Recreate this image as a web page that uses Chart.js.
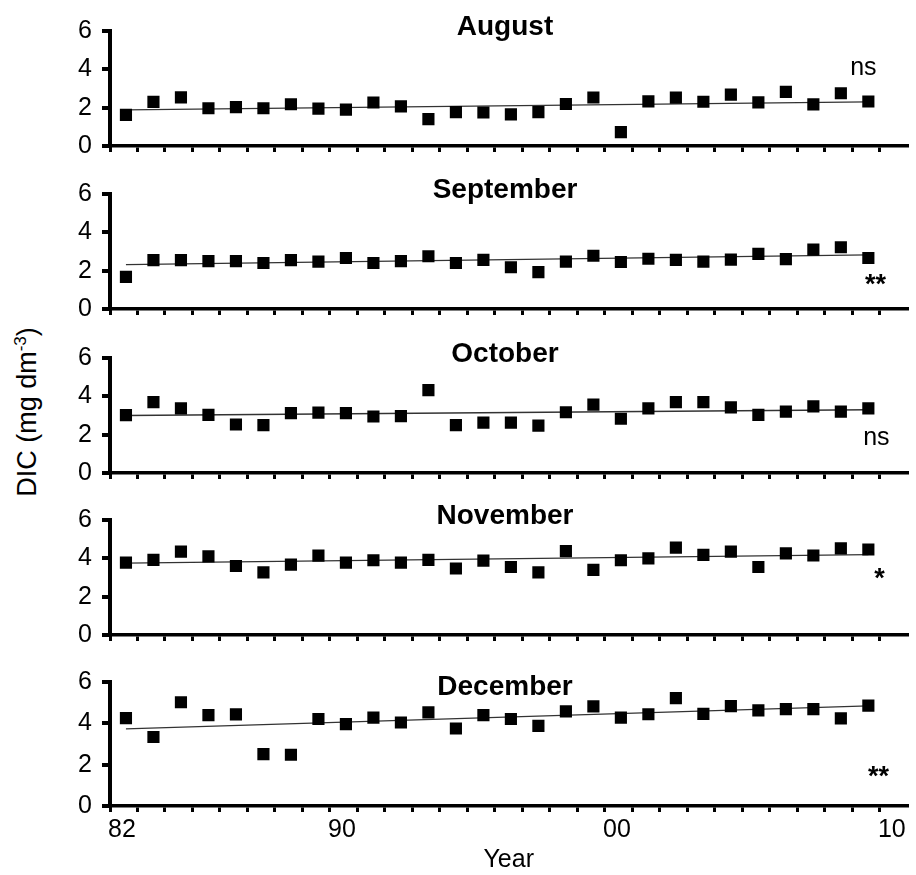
<!DOCTYPE html>
<html>
<head>
<meta charset="utf-8">
<script src="https://cdn.jsdelivr.net/npm/chart.js@4/dist/chart.umd.min.js"></script>
<style>
html,body{margin:0;padding:0;background:#fff;}
#wrap{position:relative;width:916px;height:875px;overflow:hidden;font-family:"Liberation Sans",Arial,sans-serif;}
.panel{position:absolute;left:0;width:916px;}
#ytitle{position:absolute;left:27px;top:412px;transform:translate(-50%,-50%) rotate(-90deg);font-size:27px;white-space:nowrap;color:#000;line-height:1;}
#ytitle sup{font-size:17px;position:relative;top:-10px;vertical-align:baseline;}
</style>
</head>
<body>
<div id="wrap">
  <div id="ytitle">DIC (mg dm<sup>-3</sup>)</div>
</div>
<script>
// ---------- data ----------
const years = [1982,1983,1984,1985,1986,1987,1988,1989,1990,1991,1992,1993,1994,1995,
               1996,1997,1998,1999,2000,2001,2002,2003,2004,2005,2006,2007,2008,2009];
const augustDIC    = [1.62,2.30,2.54,1.97,2.03,1.97,2.18,1.95,1.90,2.27,2.07,1.40,1.77,1.75,
                      1.65,1.77,2.19,2.53,0.72,2.33,2.52,2.31,2.68,2.28,2.82,2.17,2.75,2.32];
const septemberDIC = [1.68,2.55,2.55,2.50,2.50,2.40,2.55,2.47,2.66,2.40,2.50,2.75,2.40,2.56,
                      2.18,1.92,2.47,2.78,2.45,2.62,2.56,2.47,2.58,2.88,2.60,3.10,3.22,2.66];
const octoberDIC   = [3.02,3.70,3.37,3.03,2.53,2.50,3.12,3.15,3.12,2.95,2.97,4.32,2.50,2.63,
                      2.63,2.47,3.17,3.57,2.83,3.37,3.70,3.70,3.42,3.03,3.20,3.48,3.20,3.37];
const novemberDIC  = [3.78,3.92,4.35,4.10,3.60,3.27,3.67,4.14,3.78,3.90,3.78,3.92,3.47,3.88,
                      3.55,3.27,4.38,3.40,3.90,4.00,4.56,4.18,4.35,3.55,4.26,4.15,4.52,4.46];
const decemberDIC  = [4.25,3.34,5.02,4.40,4.43,2.51,2.48,4.21,3.96,4.28,4.04,4.53,3.75,4.40,
                      4.21,3.88,4.58,4.82,4.28,4.44,5.22,4.46,4.83,4.63,4.69,4.69,4.24,4.86];
const months       = ['August','September','October','November','December'];
const significance = ['ns','**','ns','*','**'];
const trendStart   = [1.88,2.32,3.00,3.75,3.73];   // trend line value at first year
const trendEnd     = [2.30,2.82,3.30,4.19,4.84];   // trend line value at last year
const yTickValues  = [0,2,4,6];
const xTickYears   = [1982,1990,2000,2010];
const xTickLabels  = ['82','90','00','10'];
const series = [augustDIC, septemberDIC, octoberDIC, novemberDIC, decemberDIC];

// ---------- layout / style ----------
const FONT = '"Liberation Sans", Arial, sans-serif';
const zeroLines = [155,318,482,644,806];   // pixel row of y=0 in each panel
const PLOT_H = 133, PAD_TOP = 16, PAD_BOTTOM = 16;
const X_MIN = 1981.42, X_MAX = 2010.42;
const tickMarkValues = Array.from({length:29}, (_, k) => X_MIN + k);
const sigStyle = [
  {dx:-44, dy:-78, font:'25px '+FONT},
  {dx:-32, dy:-23, font:'bold 27px '+FONT},
  {dx:-31, dy:-35, font:'25px '+FONT},
  {dx:-28, dy:-55, font:'bold 27px '+FONT},
  {dx:-29, dy:-28, font:'bold 27px '+FONT}
];

const annotatePlugin = {
  id: 'annotate',
  afterDatasetsDraw(chart, args, opts) {
    const {ctx, chartArea} = chart;
    ctx.save();
    ctx.fillStyle = '#000';
    ctx.textAlign = 'center';
    ctx.textBaseline = 'alphabetic';
    ctx.font = 'bold 28px ' + FONT;
    ctx.fillText(opts.title, 505, chartArea.bottom - 111);
    ctx.textBaseline = 'middle';
    ctx.font = opts.sig.font;
    ctx.fillText(opts.sigText, chartArea.right + opts.sig.dx, chartArea.bottom + opts.sig.dy);
    ctx.restore();
  }
};

const wrap = document.getElementById('wrap');
months.forEach((month, i) => {
  const isBottom = i === months.length - 1;
  const top = zeroLines[i] - PLOT_H - PAD_TOP;
  const height = isBottom ? 875 - top : PAD_TOP + PLOT_H + PAD_BOTTOM;
  const div = document.createElement('div');
  div.className = 'panel';
  div.style.top = top + 'px';
  div.style.height = height + 'px';
  const canvas = document.createElement('canvas');
  div.appendChild(canvas);
  wrap.appendChild(div);

  const scales = {
    x: {
      type: 'linear', position: 'bottom', weight: 0,
      min: X_MIN, max: X_MAX,
      afterBuildTicks: s => { s.ticks = tickMarkValues.map(v => ({value: v})); },
      ticks: {display: false},
      grid: {drawOnChartArea: false, drawTicks: true, tickLength: 6, color: '#000', lineWidth: 3},
      border: {display: true, color: '#000', width: 3.5},
      afterFit: s => { s.height = isBottom ? 7 : PAD_BOTTOM; }
    },
    y: {
      type: 'linear', position: 'left', min: 0, max: 6,
      afterBuildTicks: s => { s.ticks = yTickValues.map(v => ({value: v})); },
      ticks: {color: '#000', font: {family: FONT, size: 25}, padding: 10},
      grid: {drawOnChartArea: false, drawTicks: true, tickLength: 8, color: '#000', lineWidth: 4},
      border: {display: true, color: '#000', width: 4},
      afterFit: s => { s.width = 110; }
    }
  };
  if (isBottom) {
    scales.xl = {
      type: 'linear', position: 'bottom', weight: 1,
      min: X_MIN, max: X_MAX,
      afterBuildTicks: s => { s.ticks = xTickYears.map(v => ({value: v})); },
      ticks: {
        color: '#000', font: {family: FONT, size: 25}, padding: 2,
        maxRotation: 0, autoSkip: false, labelOffset: -4,
        callback: v => xTickLabels[xTickYears.indexOf(v)]
      },
      grid: {display: false, drawTicks: false},
      border: {display: false},
      title: {display: true, text: 'Year', color: '#000', font: {family: FONT, size: 25}, padding: {top: 0, bottom: 0}},
      afterFit: s => { s.height = height - PAD_TOP - PLOT_H - 7; }
    };
  }

  new Chart(canvas, {
    type: 'scatter',
    data: {
      datasets: [
        {
          type: 'scatter', order: 0,
          data: years.map((yr, k) => ({x: yr, y: series[i][k]})),
          pointStyle: 'rect', pointRadius: 8.6, pointHoverRadius: 8.6,
          backgroundColor: '#000', borderWidth: 0
        },
        {
          type: 'line', order: 1,
          data: [{x: years[0], y: trendStart[i]}, {x: years[years.length - 1], y: trendEnd[i]}],
          borderColor: '#333', borderWidth: 1.3, pointRadius: 0, fill: false, tension: 0
        }
      ]
    },
    options: {
      responsive: true, maintainAspectRatio: false, animation: false,
      layout: {padding: {top: PAD_TOP, left: 0, right: 7, bottom: 0}},
      plugins: {
        legend: {display: false}, tooltip: {enabled: false},
        annotate: {title: month, sigText: significance[i], sig: sigStyle[i]}
      },
      scales: scales
    },
    plugins: [annotatePlugin]
  });
});
</script>
</body>
</html>
